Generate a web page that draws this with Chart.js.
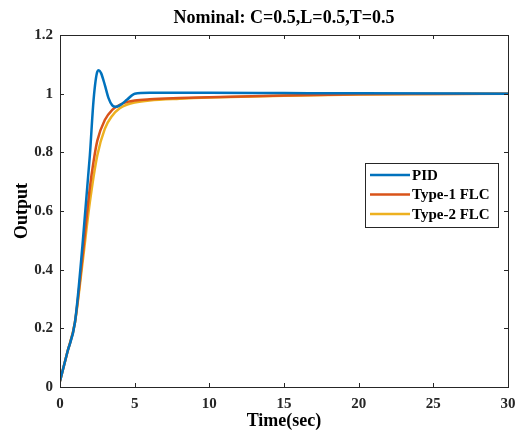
<!DOCTYPE html>
<html>
<head>
<meta charset="utf-8">
<script src="https://cdn.jsdelivr.net/npm/chart.js@4.4.1/dist/chart.umd.min.js"></script>
<style>
html,body{margin:0;padding:0;background:#fff;}
#wrap{width:517px;height:432px;}
</style>
</head>
<body>
<div id="wrap"><canvas id="c" width="517" height="432"></canvas></div>
<script>
const chartTitle = "Nominal: C=0.5,L=0.5,T=0.5";
const xTitle = "Time(sec)";
const yTitle = "Output";
const xTicks = [0, 5, 10, 15, 20, 25, 30];
const yTicks = [0, 0.2, 0.4, 0.6, 0.8, 1, 1.2];
const yTickLabels = ["0", "0.2", "0.4", "0.6", "0.8", "1", "1.2"];
const seriesNames = ["PID", "Type-1 FLC", "Type-2 FLC"];

const pidT = [0, 0.5, 1, 1.5, 2, 2.25, 2.5, 2.6, 2.75, 3, 3.25, 3.5, 3.75, 4, 4.5, 5, 6, 8, 10, 15, 20, 30];
const pidY = [0.02, 0.12, 0.22, 0.48, 0.79, 0.98, 1.075, 1.08, 1.07, 1.03, 0.985, 0.96, 0.955, 0.96, 0.98, 1.0, 1.003, 1.003, 1.003, 1.002, 1.001, 1.0];

const t1T = [0, 0.5, 1, 1.5, 2, 2.25, 2.5, 3, 3.5, 4, 4.5, 5, 6, 8, 10, 15, 20, 25, 30];
const t1Y = [0.02, 0.12, 0.22, 0.44, 0.68, 0.77, 0.84, 0.91, 0.945, 0.962, 0.972, 0.977, 0.981, 0.985, 0.988, 0.994, 0.998, 0.999, 1.0];

const t2T = [0, 0.5, 1, 1.5, 2, 2.5, 3, 3.5, 4, 4.5, 5, 6, 8, 10, 15, 20, 25, 30];
const t2Y = [0.02, 0.12, 0.22, 0.42, 0.63, 0.79, 0.88, 0.925, 0.95, 0.963, 0.97, 0.977, 0.983, 0.987, 0.993, 0.997, 0.999, 1.0];

const colors = ["#0072BD", "#D95319", "#EDB120"];

function pts(t, y) { return t.map((v, i) => ({x: v, y: y[i]})); }

const FONT = "'Liberation Serif','Times New Roman',serif";

const decor = {
  id: 'decor',
  afterDatasetsDraw(chart) {
    const {ctx, chartArea: a, scales} = chart;
    ctx.save();
    ctx.strokeStyle = '#262626';
    ctx.lineWidth = 1;
    ctx.strokeRect(a.left + 0.5, a.top + 0.5, a.right - a.left, a.bottom - a.top);
    const tl = 4;
    ctx.beginPath();
    xTicks.forEach(v => {
      const x = Math.round(scales.x.getPixelForValue(v)) + 0.5;
      ctx.moveTo(x, a.bottom); ctx.lineTo(x, a.bottom - tl);
      ctx.moveTo(x, a.top); ctx.lineTo(x, a.top + tl);
    });
    yTicks.forEach(v => {
      const y = Math.round(scales.y.getPixelForValue(v)) + 0.5;
      ctx.moveTo(a.left, y); ctx.lineTo(a.left + tl, y);
      ctx.moveTo(a.right, y); ctx.lineTo(a.right - tl, y);
    });
    ctx.stroke();
    ctx.fillStyle = '#000';
    ctx.font = "bold 18px " + FONT;
    ctx.textAlign = 'center';
    ctx.textBaseline = 'middle';
    ctx.fillText(chartTitle, (a.left + a.right) / 2, 18);
    const lx = 365, ly = 163, lw = 133, lh = 64;
    ctx.fillStyle = '#fff';
    ctx.fillRect(lx, ly, lw, lh);
    ctx.strokeStyle = '#262626';
    ctx.lineWidth = 1;
    ctx.strokeRect(lx + 0.5, ly + 0.5, lw, lh);
    ctx.font = "bold 15px " + FONT;
    ctx.textAlign = 'left';
    chart.data.datasets.forEach((ds, i) => {
      const yy = ly + 12 + i * 19.5;
      ctx.strokeStyle = ds.borderColor;
      ctx.lineWidth = 2.5;
      ctx.beginPath();
      ctx.moveTo(lx + 5, yy); ctx.lineTo(lx + 45, yy);
      ctx.stroke();
      ctx.fillStyle = '#000';
      ctx.fillText(ds.label, lx + 47, yy + 1);
    });
    ctx.restore();
  }
};

new Chart(document.getElementById('c'), {
  type: 'line',
  data: {
    datasets: [
      {label: seriesNames[0], data: pts(pidT, pidY), borderColor: colors[0]},
      {label: seriesNames[1], data: pts(t1T, t1Y), borderColor: colors[1]},
      {label: seriesNames[2], data: pts(t2T, t2Y), borderColor: colors[2]}
    ].map(d => Object.assign(d, {borderWidth: 2.5, pointRadius: 0, tension: 0.4, cubicInterpolationMode: 'monotone', fill: false}))
  },
  options: {
    responsive: false,
    animation: false,
    layout: {padding: {top: 35, right: 9, left: 12, bottom: 0}},
    plugins: {legend: {display: false}, tooltip: {enabled: false}, title: {display: false}},
    scales: {
      x: {
        type: 'linear', min: 0, max: 30,
        afterBuildTicks: s => { s.ticks = xTicks.map(v => ({value: v})); },
        afterFit: s => { s.height = 45; s.paddingLeft = 0; s.paddingRight = 0; },
        grid: {display: false, drawTicks: false},
        border: {display: false},
        ticks: {padding: 8, color: '#262626', font: {family: FONT, weight: 'bold', size: 15}, maxRotation: 0},
        title: {display: true, text: xTitle, color: '#000', font: {family: FONT, weight: 'bold', size: 18}, padding: {top: 3, bottom: 0}}
      },
      y: {
        type: 'linear', min: 0, max: 1.2,
        afterBuildTicks: s => { s.ticks = yTicks.map(v => ({value: v})); },
        afterFit: s => { s.width = 48; s.paddingTop = 0; s.paddingBottom = 0; },
        grid: {display: false, drawTicks: false},
        border: {display: false},
        ticks: {padding: 7, color: '#262626', font: {family: FONT, weight: 'bold', size: 15},
          callback: (v) => { const i = yTicks.indexOf(v); return i >= 0 ? yTickLabels[i] : ''; }},
        title: {display: true, text: yTitle, color: '#000', font: {family: FONT, weight: 'bold', size: 18}, padding: {top: 0, bottom: 0}}
      }
    }
  },
  plugins: [decor]
});
</script>
</body>
</html>
